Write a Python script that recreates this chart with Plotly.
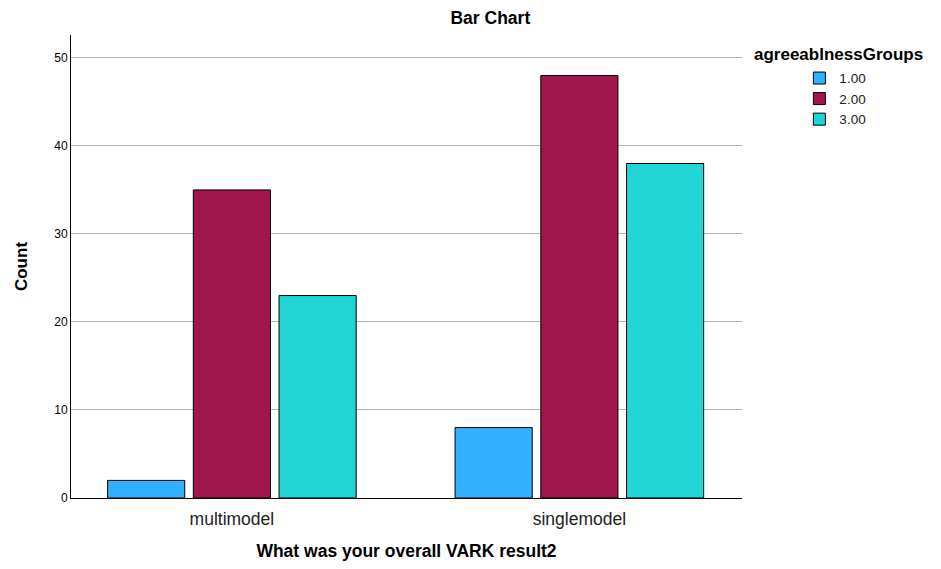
import plotly.graph_objects as go

categories = ["multimodel", "singlemodel"]
groups = ["1.00", "2.00", "3.00"]
values_1 = [2, 8]
values_2 = [35, 48]
values_3 = [23, 38]
colors = ["#33AFFF", "#A0174E", "#22D5D5"]

series = [values_1, values_2, values_3]
fig = go.Figure()
for name, vals, col in zip(groups, series, colors):
    fig.add_trace(go.Bar(
        x=categories, y=vals, name=name,
        marker=dict(color=col, line=dict(color="black", width=1)),
    ))

font = "Liberation Sans, Arial, sans-serif"
fig.update_layout(
    width=933, height=561,
    margin=dict(l=56, r=199, t=27, b=67),
    paper_bgcolor="white", plot_bgcolor="white",
    barmode="group", bargap=0.26, bargroupgap=0.1,
    title=dict(text="<b>Bar Chart</b>", x=0.517, xanchor="center", xref="container",
               y=0.982, yanchor="middle", yref="container",
               font=dict(family=font, size=17.5, color="black")),
    font=dict(family=font, color="black"),
    xaxis=dict(
        type="category", range=[-0.463, 1.468],
        showline=True, linecolor="black", linewidth=1,
        ticks="outside", ticklen=5, tickcolor="rgba(0,0,0,0)", showgrid=False,
        tickfont=dict(family=font, size=17.5, color="#222"),
        title=dict(text="<b>What was your overall VARK result2</b>",
                   font=dict(family=font, size=17.5, color="black"), standoff=16),
    ),
    yaxis=dict(
        range=[0, 52.6], tickvals=[0, 10, 20, 30, 40, 50],
        showline=True, linecolor="black", linewidth=1,
        showgrid=True, gridcolor="#B4B4B4", gridwidth=1,
        ticks="", zeroline=False,
        tickfont=dict(family=font, size=12, color="black"),
        title=dict(text="<b>Count</b>", font=dict(family=font, size=17, color="black"),
                   standoff=22),
    ),
    legend=dict(x=1.0855, xanchor="left", y=0.94, yanchor="top",
                font=dict(family=font, size=13.5, color="#222"),
                tracegroupgap=0, itemwidth=30),
    annotations=[dict(text="<b>agreeablnessGroups</b>", x=1.0147, xref="paper",
                      xanchor="left", y=0.957, yref="paper", yanchor="middle",
                      showarrow=False, font=dict(family=font, size=17, color="black"))],
)

fig.write_html("out.html")
